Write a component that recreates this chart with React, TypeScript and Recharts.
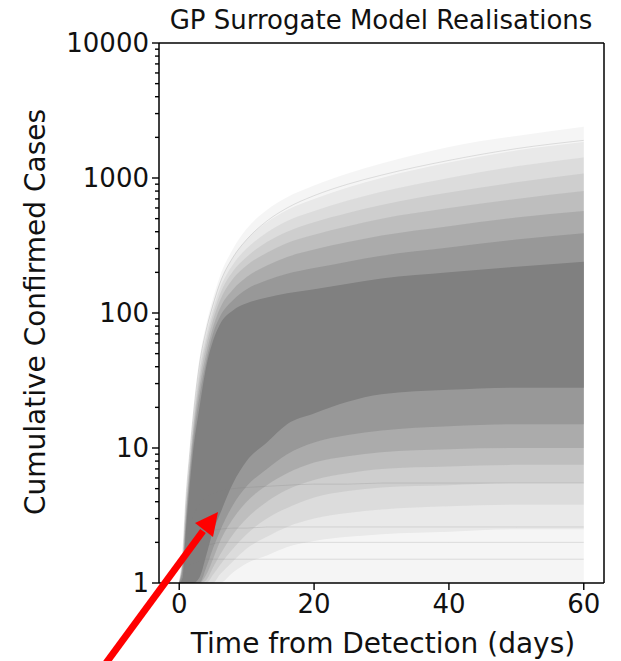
import React from "react";
import { Area, ComposedChart, Line, ReferenceLine, XAxis, YAxis } from "recharts";

const FONT = "DejaVu Sans, Verdana, sans-serif";
const GREY = "#808080";

// sample days across the realisations
const days = [0, 0.5, 1, 1.5, 2, 3, 4, 5, 6, 8, 10, 13, 16, 20, 25, 30, 40, 50, 60];

// envelopes of the realisation cloud (outermost first)
const top1 = [1, 1.6, 4.5, 9, 17, 46, 82, 128, 185, 300, 420, 580, 720, 880, 1080, 1280, 1700, 2050, 2400];
const top2 = [1, 1.55, 4.2, 8.5, 16, 42, 75, 116, 165, 260, 350, 470, 580, 700, 850, 1000, 1300, 1600, 1850];
const top3 = [1, 1.5, 4, 8, 15, 39, 69, 106, 150, 230, 300, 395, 480, 570, 680, 790, 1000, 1220, 1420];
const top4 = [1, 1.45, 3.8, 7.5, 14, 36, 63, 97, 136, 205, 260, 335, 400, 470, 550, 630, 780, 930, 1080];
const top5 = [1, 1.4, 3.5, 7, 13, 32, 57, 88, 122, 180, 225, 280, 330, 380, 440, 500, 600, 700, 800];
const top6 = [1, 1.35, 3.2, 6.5, 12, 28, 50, 78, 107, 150, 185, 225, 260, 295, 335, 375, 440, 510, 570];
const top7 = [1, 1.25, 2.9, 5.8, 10.5, 24, 44, 70, 93, 125, 150, 175, 195, 215, 240, 265, 305, 350, 390];
const coreTop = [1, 1.1, 2.5, 5, 9, 20, 40, 62, 82, 105, 118, 130, 140, 150, 165, 180, 200, 220, 240];

const low1 = [1, 1, 1, 1, 1, 1, 1, 1, 1, 1, 1, 1, 1, 1, 1, 1, 1, 1, 1];
const low2 = [1, 1, 1, 1, 1, 1, 1, 1, 1, 1.2, 1.4, 1.6, 1.85, 2.05, 2.2, 2.3, 2.4, 2.5, 2.5];
const low3 = [1, 1, 1, 1, 1, 1, 1, 1, 1.15, 1.45, 1.8, 2.2, 2.6, 3, 3.3, 3.5, 3.7, 3.8, 3.8];
const low4 = [1, 1, 1, 1, 1, 1, 1, 1.15, 1.35, 1.8, 2.3, 3, 3.6, 4.3, 4.8, 5.1, 5.3, 5.5, 5.5];
const low5 = [1, 1, 1, 1, 1, 1, 1.05, 1.3, 1.6, 2.3, 3, 4, 4.9, 5.8, 6.5, 7, 7.3, 7.5, 7.5];
const low6 = [1, 1, 1, 1, 1, 1, 1.15, 1.5, 2, 3, 4, 5.3, 6.5, 7.8, 8.7, 9.3, 9.8, 10, 10];
const low7 = [1, 1, 1, 1, 1, 1, 1.3, 1.8, 2.4, 3.8, 5.2, 7, 9, 11, 12.5, 13.5, 14.5, 15, 15];
const coreLow = [1, 1, 1, 1, 1, 1.1, 1.6, 2.4, 3.2, 5.5, 8, 11, 15, 18, 22, 25, 27, 28, 28];

// a few individual faint realisations
const faintA = [1, 1.1, 1.25, 1.35, 1.4, 1.45, 1.5, 1.5, 1.5, 1.5, 1.5, 1.5, 1.5, 1.5, 1.5, 1.5, 1.5, 1.5, 1.5];
const faintB = [1, 1.15, 1.4, 1.6, 1.75, 1.85, 1.9, 1.95, 2, 2, 2, 2, 2, 2, 2, 2, 2, 2, 2];
const faintC = [1, 1.2, 1.5, 1.8, 2, 2.2, 2.35, 2.45, 2.5, 2.55, 2.55, 2.6, 2.6, 2.6, 2.6, 2.6, 2.6, 2.6, 2.6];
const faintD = [1, 1.3, 1.8, 2.4, 3, 3.8, 4.3, 4.6, 4.8, 5, 5.1, 5.2, 5.3, 5.4, 5.4, 5.5, 5.5, 5.5, 5.5];
const faintE = [1, 1.6, 4.3, 8.5, 16, 42, 75, 115, 165, 260, 350, 480, 600, 740, 900, 1050, 1350, 1650, 1900];

const xTicks = [0, 20, 40, 60];
const majorY = [1, 10, 100, 1000, 10000];
const minorY = [2, 3, 4, 5, 6, 7, 8, 9, 20, 30, 40, 50, 60, 70, 80, 90, 200, 300, 400, 500, 600, 700, 800, 900, 2000, 3000, 4000, 5000, 6000, 7000, 8000, 9000];

const bands = [
  { key: "b1", top: top1, low: low1, opacity: 0.08 },
  { key: "b2", top: top2, low: low2, opacity: 0.1 },
  { key: "b3", top: top3, low: low3, opacity: 0.12 },
  { key: "b4", top: top4, low: low4, opacity: 0.15 },
  { key: "b5", top: top5, low: low5, opacity: 0.2 },
  { key: "b6", top: top6, low: low6, opacity: 0.3 },
  { key: "b7", top: top7, low: low7, opacity: 0.45 },
  { key: "core", top: coreTop, low: coreLow, opacity: 1 }
];

const faint = [
  { key: "fa", values: faintA },
  { key: "fb", values: faintB },
  { key: "fc", values: faintC },
  { key: "fd", values: faintD },
  { key: "fe", values: faintE }
];

const rows = days.map((day, i) => {
  const row: Record<string, any> = { day };
  bands.forEach((b) => {
    row[b.key] = [b.low[i], b.top[i]];
  });
  faint.forEach((f) => {
    row[f.key] = f.values[i];
  });
  return row;
});

const AXIS_X = 159;

function YTick(props: any) {
  const { y, payload } = props;
  const major = majorY.includes(payload.value);
  const len = major ? 7 : 4;
  return (
    <g>
      <line x1={AXIS_X - len} x2={AXIS_X} y1={y} y2={y} stroke="#000" strokeWidth={1.4} />
      {major && (
        <text x={AXIS_X - 10} y={y} dy="0.36em" textAnchor="end" fontSize={26} fontFamily={FONT} fill="#111">
          {payload.value}
        </text>
      )}
    </g>
  );
}

export default function App() {
  return (
    <div style={{ position: "absolute", left: 0, top: 0, width: 621, height: 661, background: "#fff" }}>
      <ComposedChart width={621} height={661} data={rows} margin={{ top: 43, right: 17, bottom: 0, left: 0 }}>
        <XAxis
          dataKey="day"
          type="number"
          domain={[-3, 63]}
          ticks={xTicks}
          allowDataOverflow
          height={78}
          tickSize={7}
          tickMargin={5}
          axisLine={{ stroke: "#000", strokeWidth: 1.5 }}
          tickLine={{ stroke: "#000", strokeWidth: 1.4 }}
          tick={{ fontSize: 26, fill: "#111", fontFamily: FONT }}
        />
        <YAxis
          type="number"
          scale="log"
          domain={[1, 10000]}
          allowDataOverflow
          ticks={[...majorY, ...minorY]}
          interval={0}
          width={159}
          tickLine={false}
          axisLine={{ stroke: "#000", strokeWidth: 1.5 }}
          tick={<YTick />}
        />
        {bands.map((b) => (
          <Area
            key={b.key}
            dataKey={b.key}
            type="monotone"
            stroke="none"
            fill={GREY}
            fillOpacity={b.opacity}
            isAnimationActive={false}
            activeDot={false}
          />
        ))}
        {faint.map((f) => (
          <Line
            key={f.key}
            dataKey={f.key}
            type="monotone"
            stroke={GREY}
            strokeOpacity={0.22}
            strokeWidth={1}
            dot={false}
            activeDot={false}
            isAnimationActive={false}
          />
        ))}
        <ReferenceLine y={10000} stroke="#000" strokeWidth={1.5} />
        <ReferenceLine x={63} stroke="#000" strokeWidth={1.5} />
      </ComposedChart>
      <svg width={621} height={661} style={{ position: "absolute", left: 0, top: 0, pointerEvents: "none" }}>
        <text x={381} y={29} textAnchor="middle" fontSize={26} fontFamily={FONT} fill="#111">
          GP Surrogate Model Realisations
        </text>
        <text
          x={35}
          y={312}
          transform="rotate(-90 35 312)"
          dy="0.36em"
          textAnchor="middle"
          fontSize={28}
          fontFamily={FONT}
          fill="#111"
        >
          Cumulative Confirmed Cases
        </text>
        <text x={383} y={653} textAnchor="middle" fontSize={28} fontFamily={FONT} fill="#111">
          Time from Detection (days)
        </text>
        <line x1={106} y1={663} x2={203} y2={531} stroke="#ff0000" strokeWidth={7} />
        <polygon points="218,512 195,523 213,537" fill="#ff0000" />
      </svg>
    </div>
  );
}
